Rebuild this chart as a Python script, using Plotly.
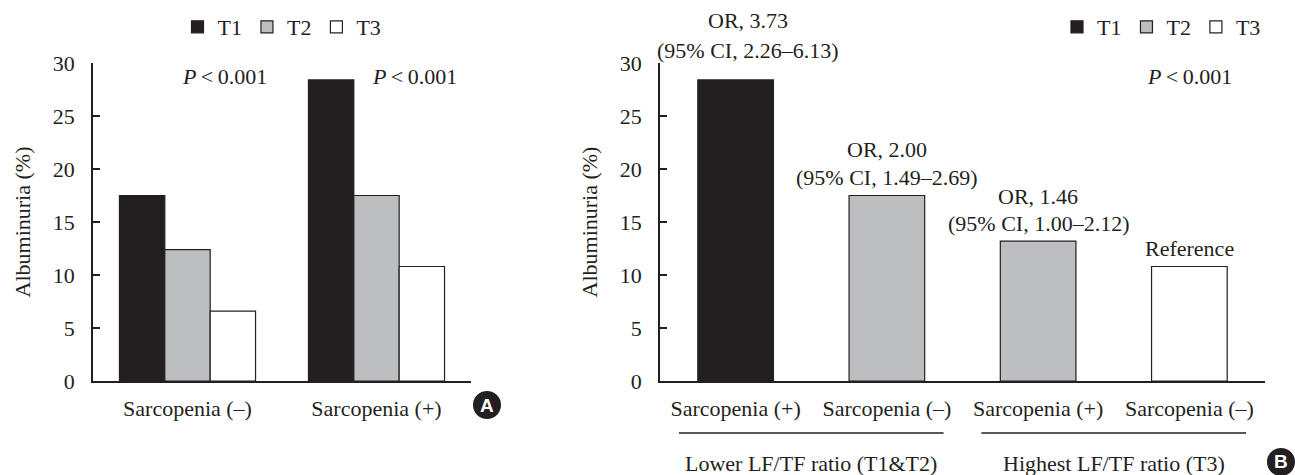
import plotly.graph_objects as go

# ---------------- data ----------------
TIERS = ["T1", "T2", "T3"]
TIER_COLORS = {"T1": "#231f20", "T2": "#bcbec0", "T3": "#ffffff"}

A_CATEGORIES = ["Sarcopenia (–)", "Sarcopenia (+)"]
A_T1 = [17.5, 28.4]
A_T2 = [12.4, 17.5]
A_T3 = [6.6, 10.8]
A_P_LABELS = ["<i>P</i>\u2009&lt;\u20090.001", "<i>P</i>\u2009&lt;\u20090.001"]

B_LABELS = ["Sarcopenia (+)", "Sarcopenia (–)", "Sarcopenia (+)", "Sarcopenia (–)"]
B_TIERS = ["T1", "T2", "T2", "T3"]
B_VALUES = [28.4, 17.5, 13.2, 10.8]
B_OR_LABELS = ["OR, 3.73", "OR, 2.00", "OR, 1.46", ""]
B_CI_LABELS = ["(95% CI, 2.26–6.13)", "(95% CI, 1.49–2.69)",
               "(95% CI, 1.00–2.12)", "Reference"]
B_GROUPS = ["Lower LF/TF ratio (T1&T2)", "Highest LF/TF ratio (T3)"]
B_GROUP_MEMBERS = [[0, 1], [2, 3]]
B_P_LABEL = "<i>P</i>\u2009&lt;\u20090.001"

Y_TITLE = "Albuminuria (%)"

# ---------------- style ----------------
INK = "#231f20"
FONT = "Liberation Serif"
FS = 22

fig = go.Figure()

# Panel A: grouped bars
a_series = {"T1": A_T1, "T2": A_T2, "T3": A_T3}
a_offsets = {"T1": -0.36, "T2": -0.12, "T3": 0.12}
for t in TIERS:
    fig.add_trace(go.Bar(
        x=A_CATEGORIES, y=a_series[t], name=t,
        width=0.24, offset=a_offsets[t],
        marker=dict(color=TIER_COLORS[t], line=dict(color=INK, width=1.2)),
        xaxis="x", yaxis="y", legend="legend",
    ))

# Panel B: one bar per position, coloured by tier
b_pos = list(range(len(B_LABELS)))
for t in TIERS:
    xs = [p for p, tt in zip(b_pos, B_TIERS) if tt == t]
    ys = [v for v, tt in zip(B_VALUES, B_TIERS) if tt == t]
    fig.add_trace(go.Bar(
        x=xs, y=ys, name=t,
        width=0.5, offset=-0.25,
        marker=dict(color=TIER_COLORS[t], line=dict(color=INK, width=1.2)),
        xaxis="x2", yaxis="y2", legend="legend2",
    ))

yaxis_common = dict(
    range=[0, 30], dtick=5, showline=True, linecolor=INK, linewidth=1.5,
    ticks="inside", ticklen=7, tickwidth=1.5, tickcolor=INK,
    showgrid=False, zeroline=False, ticklabelstandoff=12, automargin=False,
    title=dict(text=Y_TITLE, standoff=16, font=dict(size=FS)),
    tickfont=dict(size=FS), fixedrange=True,
)
xaxis_common = dict(
    showline=True, linecolor=INK, linewidth=1.5, ticks="",
    showgrid=False, zeroline=False, tickfont=dict(size=FS),
    ticklabelstandoff=7, fixedrange=True, automargin=False,
)

annotations = []
# Panel A p-values
for xp, txt in zip([224 / 1295, 414 / 1295], A_P_LABELS):
    annotations.append(dict(xref="paper", yref="paper", x=xp, y=0.959,
                            xanchor="center", yanchor="middle",
                            text=txt, showarrow=False, font=dict(size=FS)))
# Panel B OR / CI labels (pixel offsets above each bar)
or_shift = [59, 46, 45, 0]
ci_shift = [29, 18, 18, 18]
x_shift = [12, 0, 0, 0]
for p, v, o_txt, c_txt, os_, cs_, xs_ in zip(b_pos, B_VALUES, B_OR_LABELS,
                                              B_CI_LABELS, or_shift, ci_shift, x_shift):
    if o_txt:
        annotations.append(dict(xref="x2", yref="y2", x=p, y=v, text=o_txt,
                                showarrow=False, xanchor="center", yanchor="middle",
                                xshift=xs_, yshift=os_, font=dict(size=FS)))
    annotations.append(dict(xref="x2", yref="y2", x=p, y=v, text=c_txt,
                            showarrow=False, xanchor="center", yanchor="middle",
                            xshift=xs_, yshift=cs_, font=dict(size=FS)))
annotations.append(dict(xref="x2", yref="paper", x=b_pos[-1], y=0.959,
                        xanchor="center", yanchor="middle",
                        text=B_P_LABEL, showarrow=False, font=dict(size=FS)))

shapes = []
for name, members in zip(B_GROUPS, B_GROUP_MEMBERS):
    c = sum(members) / len(members)
    shapes.append(dict(type="line", xref="x2", yref="paper",
                       x0=c - 0.875, x1=c + 0.875, y0=-0.1635, y1=-0.1635,
                       line=dict(color=INK, width=1.3)))
    annotations.append(dict(xref="x2", yref="paper", x=c, y=-0.258,
                            xanchor="center", yanchor="middle",
                            text=name, showarrow=False, font=dict(size=FS)))

# Panel badges
for letter, bx, by in [("A", 487 / 1295, -0.0755), ("B", 1281 / 1295, -0.2547)]:
    shapes.append(dict(type="circle", xref="paper", yref="paper",
                       xsizemode="pixel", ysizemode="pixel",
                       xanchor=bx, yanchor=by, x0=-14, x1=14, y0=-14, y1=14,
                       fillcolor=INK, line=dict(color=INK, width=0)))
    annotations.append(dict(xref="paper", yref="paper", x=bx, y=by,
                            xanchor="center", yanchor="middle",
                            text=f"<b>{letter}</b>", showarrow=False,
                            font=dict(family="Arial, Liberation Sans", size=19,
                                      color="white")))

legend_common = dict(orientation="h", yref="container", xref="container",
                     yanchor="middle", y=1 - 27 / 475,
                     font=dict(size=FS), bgcolor="rgba(0,0,0,0)",
                     itemwidth=30, traceorder="normal")

fig.update_layout(
    width=1295, height=475,
    margin=dict(l=0, r=0, t=63, b=94),
    paper_bgcolor="white", plot_bgcolor="white",
    font=dict(family=FONT, size=FS, color=INK),
    barmode="overlay",
    showlegend=True,
    hovermode=False,
    xaxis=dict(domain=[93 / 1295, 471 / 1295], anchor="y", **xaxis_common),
    yaxis=dict(domain=[0, 1], anchor="x", **yaxis_common),
    xaxis2=dict(domain=[660 / 1295, 1265 / 1295], anchor="y2",
                tickmode="array", tickvals=b_pos, ticktext=B_LABELS,
                range=[-0.5, len(B_LABELS) - 0.5], **xaxis_common),
    yaxis2=dict(domain=[0, 1], anchor="x2", **yaxis_common),
    legend=dict(x=282 / 1295, xanchor="center", **legend_common),
    legend2=dict(x=1266 / 1295, xanchor="right", **legend_common),
    annotations=annotations,
    shapes=shapes,
)

fig.write_html(
    "out.html",
    config={"displayModeBar": False},
    post_script="document.body.style.margin='0';document.body.style.overflow='hidden';",
)
